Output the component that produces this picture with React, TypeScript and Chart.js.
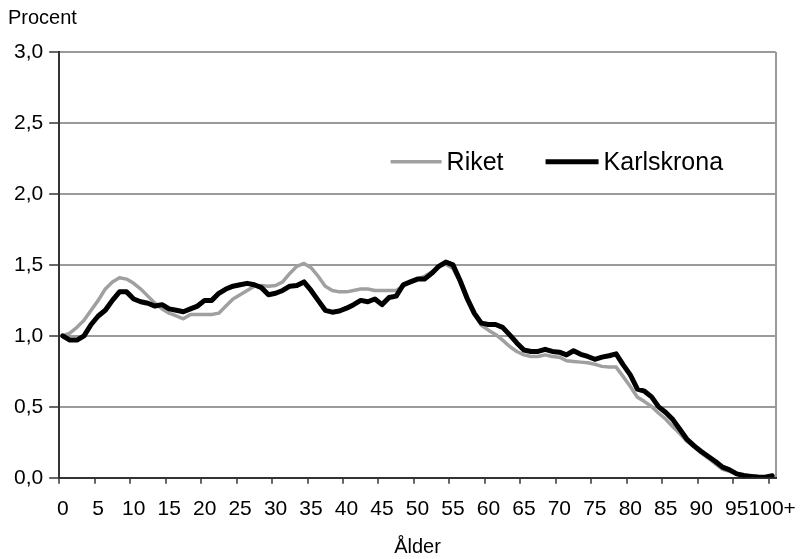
import React, { useEffect, useRef } from "react";
import { Chart, registerables } from "chart.js";

Chart.register(...registerables);

const AGE_LABELS: string[] = Array.from({ length: 101 }, (_, i) => (i === 100 ? "100+" : String(i)));

const RIKET: number[] = [
  1.0, 1.02, 1.06, 1.11, 1.18, 1.25, 1.33, 1.38, 1.41, 1.4,
  1.37, 1.33, 1.28, 1.23, 1.19, 1.16, 1.14, 1.12, 1.15, 1.15,
  1.15, 1.15, 1.16, 1.21, 1.26, 1.29, 1.32, 1.35, 1.355, 1.35,
  1.355, 1.38, 1.44, 1.49, 1.51, 1.48, 1.42, 1.35, 1.32, 1.31,
  1.31, 1.32, 1.33, 1.33, 1.32, 1.32, 1.32, 1.32, 1.35, 1.38,
  1.4, 1.42, 1.45, 1.49, 1.505, 1.475, 1.38, 1.25, 1.15, 1.075,
  1.04, 1.01, 0.97, 0.925, 0.89, 0.866, 0.855, 0.855, 0.866, 0.855,
  0.85, 0.825, 0.82, 0.815, 0.81, 0.8, 0.785, 0.78, 0.78, 0.713,
  0.643, 0.568, 0.537, 0.502, 0.455, 0.413, 0.36, 0.31, 0.256, 0.216,
  0.174, 0.138, 0.098, 0.06, 0.045, 0.025, 0.015, 0.01, 0.005, 0.003,
  0.01,
];

const KARLSKRONA: number[] = [
  1.0, 0.97, 0.97, 1.0, 1.08, 1.14, 1.18, 1.25, 1.31, 1.31,
  1.26, 1.24, 1.23, 1.21, 1.22, 1.19, 1.18, 1.17, 1.19, 1.21,
  1.25, 1.25, 1.3, 1.33, 1.35, 1.36, 1.37, 1.36, 1.34, 1.29,
  1.3, 1.32, 1.35, 1.355, 1.38, 1.32, 1.25, 1.18, 1.167, 1.175,
  1.195, 1.22, 1.25, 1.24, 1.26, 1.22, 1.27, 1.28, 1.36, 1.38,
  1.4, 1.4, 1.44, 1.49, 1.52, 1.5, 1.39, 1.265, 1.16, 1.09,
  1.08, 1.08, 1.06, 1.007, 0.95, 0.9, 0.89, 0.89, 0.905, 0.89,
  0.885, 0.866, 0.895, 0.87, 0.855, 0.835, 0.85, 0.86, 0.873, 0.796,
  0.725, 0.625, 0.61, 0.57, 0.5, 0.46, 0.41, 0.34, 0.27, 0.225,
  0.185, 0.15, 0.115, 0.075, 0.056, 0.028, 0.016, 0.01, 0.005, 0.004,
  0.014,
];

const Y_MIN = 0;
const Y_MAX = 3;
const Y_STEP = 0.5;
const LABEL_STEP = 5;

const FONT = "'Liberation Sans', Arial, Helvetica, sans-serif";

const inlineLegend = {
  id: "inlineLegend",
  afterDraw(chart: any) {
    const { ctx, chartArea } = chart;
    const w = chartArea.right - chartArea.left;
    const h = chartArea.bottom - chartArea.top;
    let x = chartArea.left + w * 0.4625;
    const y = chartArea.top + h * 0.258;
    ctx.save();
    ctx.font = `25px ${FONT}`;
    ctx.textBaseline = "middle";
    ctx.textAlign = "left";
    chart.data.datasets.forEach((ds: any, i: number) => {
      const lineLen = i === 0 ? 51 : 53;
      ctx.beginPath();
      ctx.strokeStyle = ds.borderColor;
      ctx.lineWidth = ds.borderWidth;
      ctx.lineCap = "butt";
      ctx.moveTo(x, y);
      ctx.lineTo(x + lineLen, y);
      ctx.stroke();
      x += lineLen + 5;
      ctx.fillStyle = "#000";
      ctx.fillText(ds.label, x, y + 1);
      x += ctx.measureText(ds.label).width + 42;
    });
    ctx.restore();
  },
};

export default function App() {
  const canvasRef = useRef<HTMLCanvasElement | null>(null);

  useEffect(() => {
    if (!canvasRef.current) return;
    const chart = new Chart(canvasRef.current, {
      type: "line",
      data: {
        labels: AGE_LABELS,
        datasets: [
          {
            label: "Riket",
            data: RIKET,
            borderColor: "#a0a0a0",
            backgroundColor: "#a0a0a0",
            borderWidth: 3.5,
            pointRadius: 0,
            tension: 0,
            borderJoinStyle: "round",
            borderCapStyle: "round",
            order: 1,
          },
          {
            label: "Karlskrona",
            data: KARLSKRONA,
            borderColor: "#000000",
            backgroundColor: "#000000",
            borderWidth: 5,
            pointRadius: 0,
            tension: 0,
            borderJoinStyle: "round",
            borderCapStyle: "round",
            order: 0,
          },
        ],
      },
      options: {
        responsive: false,
        animation: false,
        layout: { padding: { left: 8, right: 30, top: 0, bottom: 0 } },
        plugins: {
          legend: { display: false },
          tooltip: { enabled: false },
          title: {
            display: true,
            text: "Procent",
            align: "start",
            color: "#000",
            font: { family: FONT, size: 20, weight: "normal" },
            padding: { top: 6, bottom: 22 },
          },
        },
        scales: {
          x: {
            type: "category",
            offset: true,
            grid: {
              offset: true,
              drawOnChartArea: true,
              color: (c: any) => (c.type === "tick" ? "rgba(0,0,0,0)" : "#9a9a9a"),
              lineWidth: 2,
              tickColor: (c: any) =>
                c.type === "tick" && c.index % LABEL_STEP === 0 ? "#333" : "rgba(0,0,0,0)",
              tickLength: 6,
              tickWidth: 1.5,
            },
            border: { color: "#333", width: 2 },
            ticks: {
              autoSkip: false,
              maxRotation: 0,
              minRotation: 0,
              padding: 13,
              color: "#000",
              font: { family: FONT, size: 21 },
              callback: (_v: any, i: number) => (i % LABEL_STEP === 0 ? AGE_LABELS[i] : ""),
            },
            title: {
              display: true,
              text: "Ålder",
              color: "#000",
              font: { family: FONT, size: 20 },
              padding: { top: 0, bottom: 0 },
            },
          },
          y: {
            min: Y_MIN,
            max: Y_MAX,
            grid: {
              color: "#9a9a9a",
              lineWidth: 2,
              tickColor: "#333",
              tickLength: 10,
              tickWidth: 1.5,
            },
            border: { color: "#333", width: 2 },
            ticks: {
              stepSize: Y_STEP,
              padding: 6,
              color: "#000",
              font: { family: FONT, size: 21 },
              callback: (v: any) => Number(v).toFixed(1).replace(".", ","),
            },
          },
        },
      },
      plugins: [inlineLegend],
    } as any);
    return () => chart.destroy();
  }, []);

  return (
    <div style={{ position: "fixed", left: 0, top: 0, width: 809, height: 559, background: "#fff" }}>
      <canvas ref={canvasRef} width={809} height={559} />
    </div>
  );
}
